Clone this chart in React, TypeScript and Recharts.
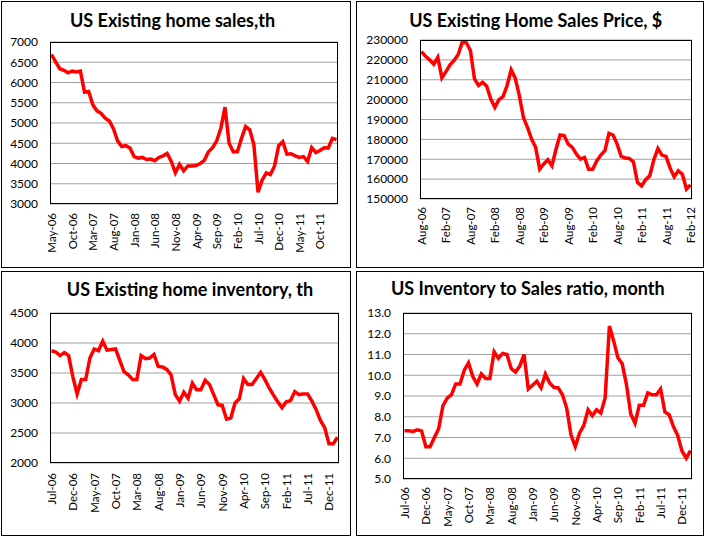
import React from "react";
import { LineChart, Line, XAxis, YAxis, CartesianGrid } from "recharts";

// May-06 .. Feb-12
const months = [
  "May-06", "Jun-06", "Jul-06", "Aug-06", "Sep-06", "Oct-06", "Nov-06", "Dec-06",
  "Jan-07", "Feb-07", "Mar-07", "Apr-07", "May-07", "Jun-07", "Jul-07", "Aug-07", "Sep-07", "Oct-07", "Nov-07", "Dec-07",
  "Jan-08", "Feb-08", "Mar-08", "Apr-08", "May-08", "Jun-08", "Jul-08", "Aug-08", "Sep-08", "Oct-08", "Nov-08", "Dec-08",
  "Jan-09", "Feb-09", "Mar-09", "Apr-09", "May-09", "Jun-09", "Jul-09", "Aug-09", "Sep-09", "Oct-09", "Nov-09", "Dec-09",
  "Jan-10", "Feb-10", "Mar-10", "Apr-10", "May-10", "Jun-10", "Jul-10", "Aug-10", "Sep-10", "Oct-10", "Nov-10", "Dec-10",
  "Jan-11", "Feb-11", "Mar-11", "Apr-11", "May-11", "Jun-11", "Jul-11", "Aug-11", "Sep-11", "Oct-11", "Nov-11", "Dec-11",
  "Jan-12", "Feb-12",
];
const salesMonths = months;
const priceMonths = months.slice(3);
const inventoryMonths = months.slice(2);

const salesValues = [
  6690, 6510, 6340, 6300, 6240, 6280, 6260, 6280, 5760, 5780,
  5450, 5300, 5240, 5120, 5050, 4860, 4560, 4420, 4440, 4380,
  4170, 4130, 4150, 4100, 4110, 4070, 4150, 4190, 4250, 4050,
  3770, 3980, 3820, 3940, 3940, 3950, 4000, 4080, 4290, 4390,
  4560, 4870, 5390, 4500, 4290, 4290, 4620, 4910, 4830, 4460,
  3290, 3590, 3770, 3730, 3940, 4440, 4540, 4230, 4240, 4190,
  4150, 4170, 4050, 4390, 4270, 4320, 4390, 4380, 4620, 4590,
];

const priceValues = [
  224200, 221800, 220000, 217800, 221300, 210900, 214100, 217500, 219700, 222700,
  228900, 228600, 224700, 210400, 207100, 208700, 206700, 200300, 196100, 200000,
  201500, 207100, 215000, 210800, 202000, 191100, 186100, 180200, 176000, 165000,
  167600, 169700, 166700, 175000, 182200, 181900, 177600, 176000, 172600, 170100,
  170900, 165000, 165000, 169200, 172100, 174300, 183000, 182200, 177600, 171400,
  170600, 170400, 168700, 158300, 156600, 159700, 161700, 169700, 175400, 172100,
  171400, 165500, 161200, 164200, 162500, 155000, 157100,
];

const inventoryValues = [
  3870, 3850, 3790, 3840, 3790, 3440, 3150, 3390, 3390, 3750,
  3900, 3870, 4030, 3880, 3890, 3900, 3710, 3520, 3470, 3390,
  3390, 3790, 3740, 3750, 3810, 3610, 3600, 3560, 3470, 3140,
  3030, 3180, 3080, 3330, 3220, 3220, 3380, 3310, 3140, 2970,
  2960, 2730, 2750, 3000, 3070, 3410, 3310, 3310, 3410, 3510,
  3390, 3250, 3130, 3020, 2920, 3020, 3040, 3190, 3140, 3150,
  3150, 3030, 2890, 2710, 2590, 2320, 2320, 2430,
];

const ratioValues = [
  7.32, 7.32, 7.29, 7.37, 7.32, 6.56, 6.56, 7.0, 7.42, 8.53,
  8.9, 9.06, 9.58, 9.58, 10.24, 10.6, 9.94, 9.58, 10.06, 9.84,
  9.84, 11.13, 10.81, 11.05, 11.0, 10.32, 10.15, 10.44, 11.0, 9.34,
  9.52, 9.71, 9.39, 10.06, 9.63, 9.42, 9.39, 9.06, 8.42, 7.13,
  6.56, 7.21, 7.58, 8.34, 8.05, 8.34, 8.18, 8.9, 12.37, 11.65,
  10.84, 10.55, 9.55, 8.13, 7.69, 8.55, 8.55, 9.15, 9.06, 9.06,
  9.34, 8.23, 8.1, 7.53, 7.1, 6.35, 6.0, 6.37,
];

const salesTicks = [3000, 3500, 4000, 4500, 5000, 5500, 6000, 6500, 7000];
const priceTicks = [150000, 160000, 170000, 180000, 190000, 200000, 210000, 220000, 230000];
const inventoryTicks = [2000, 2500, 3000, 3500, 4000, 4500];
const ratioTicks = [5, 6, 7, 8, 9, 10, 11, 12, 13];

const FONT = "Lato, 'Open Sans', sans-serif";

function toRows(labels: string[], values: number[]) {
  return labels.map((m, i) => ({ month: m, value: values[i] }));
}

function MonthTick(props: any) {
  const { x, y, payload, gap } = props;
  const ty = y + gap;
  return (
    <text
      x={x}
      y={ty}
      transform={`rotate(-90 ${x} ${ty})`}
      textAnchor="end"
      dominantBaseline="central"
      fontSize={11.5}
      fontFamily={FONT}
      fill="#000"
    >
      {payload.value}
    </text>
  );
}

interface PanelProps {
  box: { x: number; y: number; w: number; h: number };
  plot: { l: number; t: number; r: number; b: number };
  title: string;
  titleX: number;
  titleBase: number;
  labels: string[];
  values: number[];
  ticks: number[];
  interval: number;
  decimals?: number;
  labelGap: number;
}

function Panel({ box, plot, title, titleX, titleBase, labels, values, ticks, interval, decimals = 0, labelGap }: PanelProps) {
  const ox = box.x + 1;
  const oy = box.y + 1;
  const w = box.w - 2;
  const h = box.h - 2;
  const yWidth = plot.l - ox;
  const top = plot.t - oy;
  const right = ox + w - plot.r;
  const xHeight = oy + h - plot.b;
  const data = toRows(labels, values);
  const titleSize = 18;

  return (
    <div
      style={{
        position: "absolute",
        left: box.x,
        top: box.y,
        width: box.w,
        height: box.h,
        border: "1px solid #000",
        boxSizing: "border-box",
        background: "#fff",
      }}
    >
      <div
        style={{
          position: "absolute",
          left: titleX - ox - 200,
          width: 400,
          top: titleBase - oy - titleSize * 0.887,
          textAlign: "center",
          fontFamily: FONT,
          fontWeight: 700,
          fontSize: titleSize,
          lineHeight: `${titleSize}px`,
          color: "#000",
          whiteSpace: "nowrap",
        }}
      >
        {title}
      </div>
      <div style={{ position: "absolute", left: 0, top: 0 }}>
        <LineChart width={w} height={h} data={data} margin={{ top, right, left: 0, bottom: 0 }}>
          <CartesianGrid vertical={false} stroke="#a0a0a0" strokeWidth={1} />
          <XAxis
            dataKey="month"
            interval={interval}
            axisLine={false}
            tickLine={false}
            tickSize={0}
            tickMargin={0}
            height={xHeight}
            padding={{ left: 1.5, right: 1.5 }}
            tick={<MonthTick gap={labelGap} />}
          />
          <YAxis
            domain={[ticks[0], ticks[ticks.length - 1]]}
            ticks={ticks}
            interval={0}
            width={yWidth}
            axisLine={false}
            tickLine={false}
            tickSize={0}
            tickMargin={12}
            tickFormatter={(v: number) => v.toFixed(decimals)}
            tick={{ fontSize: 12, fill: "#000", fontFamily: FONT }}
            allowDataOverflow
          />
          <Line
            type="linear"
            dataKey="value"
            stroke="#ff0000"
            strokeWidth={3.5}
            dot={false}
            isAnimationActive={false}
          />
        </LineChart>
      </div>
      <div
        style={{
          position: "absolute",
          left: plot.l - ox,
          top: plot.t - oy,
          width: plot.r - plot.l,
          height: plot.b - plot.t,
          border: "1px solid #000",
          boxSizing: "border-box",
          pointerEvents: "none",
        }}
      />
    </div>
  );
}

export default function App() {
  return (
    <div style={{ position: "absolute", left: 0, top: 0, width: 707, height: 538, background: "#fff", fontFamily: FONT }}>
      <Panel
        box={{ x: 1, y: 1, w: 350, h: 267 }}
        plot={{ l: 50, t: 42, r: 338, b: 204 }}
        title="US Existing home sales,th"
        titleX={172.5}
        titleBase={27.3}
        labels={salesMonths}
        values={salesValues}
        ticks={salesTicks}
        interval={4}
        labelGap={9}
      />
      <Panel
        box={{ x: 356, y: 1, w: 348, h: 267 }}
        plot={{ l: 420, t: 40, r: 692, b: 199 }}
        title="US Existing Home Sales Price, $"
        titleX={535.7}
        titleBase={26.7}
        labels={priceMonths}
        values={priceValues}
        ticks={priceTicks}
        interval={5}
        labelGap={8}
      />
      <Panel
        box={{ x: 1, y: 271, w: 350, h: 265 }}
        plot={{ l: 50, t: 313, r: 339, b: 463 }}
        title="US Existing home inventory, th"
        titleX={190}
        titleBase={296.3}
        labels={inventoryMonths}
        values={inventoryValues}
        ticks={inventoryTicks}
        interval={4}
        labelGap={10}
      />
      <Panel
        box={{ x: 356, y: 271, w: 348, h: 265 }}
        plot={{ l: 403, t: 313, r: 692, b: 479 }}
        title="US Inventory to Sales ratio, month"
        titleX={527.8}
        titleBase={294.7}
        labels={inventoryMonths}
        values={ratioValues}
        ticks={ratioTicks}
        decimals={1}
        interval={4}
        labelGap={8}
      />
    </div>
  );
}
